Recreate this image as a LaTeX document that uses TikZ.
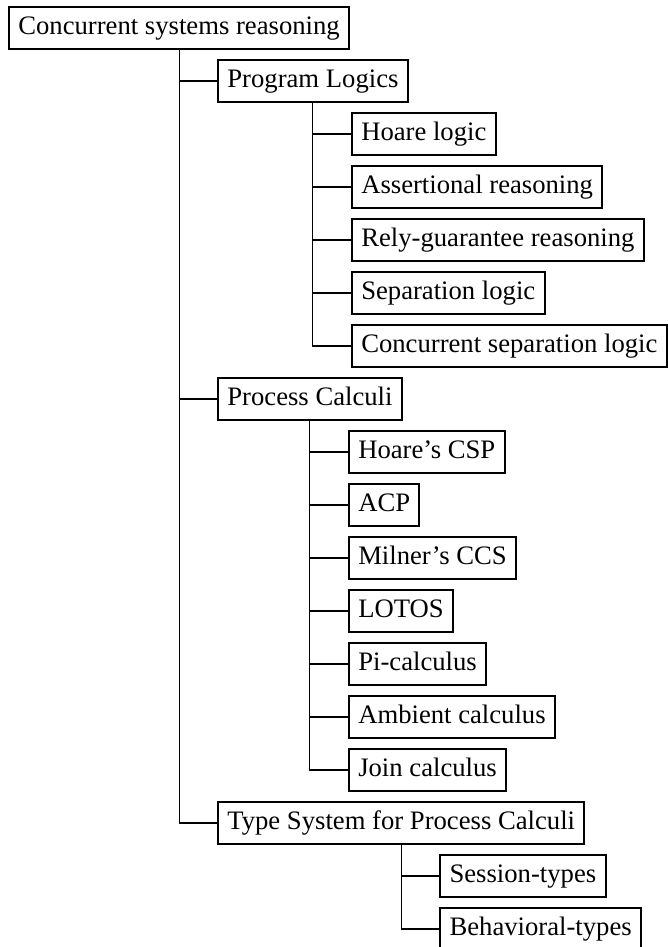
\documentclass[tikz,border=0pt]{standalone}
\usepackage{fontspec}
\setmainfont{Liberation Serif}
\usetikzlibrary{positioning, calc}

\tikzset{
  topic/.style={draw, line width=0.75pt, anchor=west, inner xsep=3.5pt, inner ysep=3pt,
    text height=7.2pt, text depth=2.2pt, font=\fontsize{10}{12}\selectfont},
  branch/.style={line width=0.4pt}
}

\begin{document}
\begin{tikzpicture}[x=0.375pt, y=-0.375pt]

  \useasboundingbox (0,0) rectangle (668,947);

  % Root
  \node[topic] (root) at (8,28) {Concurrent systems reasoning};

  % Program logics
  \node[topic] (pl) at ($(root)+(38,53)$) {Program Logics};
  \draw[branch] (root.south) |- (pl.west);
  \foreach \name/\txt [count=\i] in {hl/Hoare logic, ar/Assertional reasoning,
      rg/Rely-guarantee reasoning, sl/Separation logic, csl/Concurrent separation logic} {
    \node[topic] (\name) at ($(pl)+(38,53*\i)$) {\txt};
    \draw[branch] (pl.south) |- (\name.west);
  }

  % Process calculi
  \node[topic] (pc) at ($(root)+(38,53*7)$) {Process Calculi};
  \draw[branch] (root.south) |- (pc.west);
  \foreach \name/\txt [count=\i] in {csp/Hoare's CSP, acp/ACP, ccs/Milner's CCS,
      lotos/LOTOS, pi/Pi-calculus, amb/Ambient calculus, join/Join calculus} {
    \node[topic] (\name) at ($(pc)+(38,53*\i)$) {\txt};
    \draw[branch] (pc.south) |- (\name.west);
  }

  % Type systems
  \node[topic] (ts) at ($(root)+(38,53*15)$) {Type System for Process Calculi};
  \draw[branch] (root.south) |- (ts.west);
  \foreach \name/\txt [count=\i] in {ses/Session-types, beh/Behavioral-types} {
    \node[topic] (\name) at ($(ts)+(38,53*\i)$) {\txt};
    \draw[branch] (ts.south) |- (\name.west);
  }

\end{tikzpicture}
\end{document}
